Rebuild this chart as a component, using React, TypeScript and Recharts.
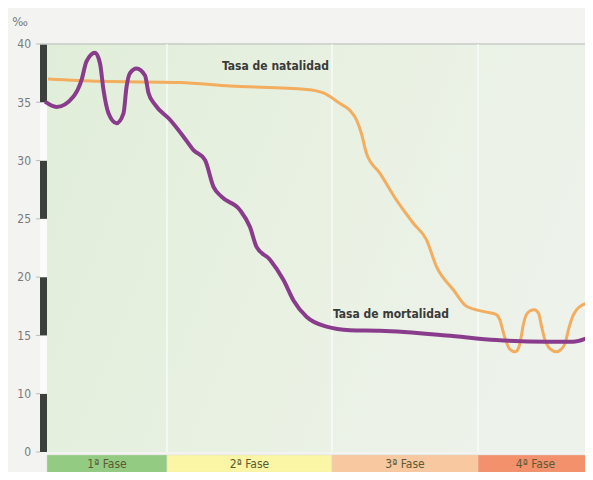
import React from "react";
import {
  LineChart,
  Line,
  XAxis,
  YAxis,
  ReferenceArea,
  ReferenceLine,
  ReferenceDot,
} from "recharts";

// births per 1000 (‰); x is an arbitrary time scale
const natalidad = [
  { t: 1.2, v: 37.0 },
  { t: 11.6, v: 36.8 },
  { t: 27.6, v: 36.7 },
  { t: 37.6, v: 36.4 },
  { t: 52.9, v: 36.1 },
  { t: 56.3, v: 35.8 },
  { t: 59.6, v: 34.9 },
  { t: 61.6, v: 34.3 },
  { t: 62.9, v: 33.5 },
  { t: 63.9, v: 32.3 },
  { t: 64.9, v: 30.6 },
  { t: 67.6, v: 28.9 },
  { t: 70.9, v: 26.6 },
  { t: 74.3, v: 24.6 },
  { t: 76.9, v: 23.2 },
  { t: 78.9, v: 20.9 },
  { t: 82.3, v: 18.9 },
  { t: 84.9, v: 17.5 },
  { t: 88.9, v: 17.0 },
  { t: 90.8, v: 16.8 },
  { t: 91.6, v: 16.3 },
  { t: 92.3, v: 15.2 },
  { t: 92.9, v: 14.4 },
  { t: 93.6, v: 13.8 },
  { t: 94.6, v: 13.6 },
  { t: 95.3, v: 13.9 },
  { t: 95.8, v: 14.8 },
  { t: 96.3, v: 16.0 },
  { t: 96.9, v: 16.8 },
  { t: 97.6, v: 17.1 },
  { t: 98.5, v: 17.2 },
  { t: 99.3, v: 16.9 },
  { t: 99.9, v: 15.8 },
  { t: 100.6, v: 14.6 },
  { t: 101.3, v: 14.0 },
  { t: 102.1, v: 13.7 },
  { t: 102.9, v: 13.6 },
  { t: 103.8, v: 13.8 },
  { t: 104.6, v: 14.3 },
  { t: 105.3, v: 15.5 },
  { t: 106.1, v: 16.6 },
  { t: 106.9, v: 17.2 },
  { t: 108.0, v: 17.6 },
  { t: 108.9, v: 17.75 },
  { t: 110.2, v: 17.9 },
];

const mortalidad = [
  { t: 0.6, v: 35.05 },
  { t: 2.9, v: 34.6 },
  { t: 6.3, v: 35.5 },
  { t: 7.9, v: 36.9 },
  { t: 8.9, v: 38.5 },
  { t: 10.6, v: 39.25 },
  { t: 11.6, v: 38.35 },
  { t: 12.3, v: 36.05 },
  { t: 13.3, v: 34.05 },
  { t: 14.9, v: 33.2 },
  { t: 16.3, v: 34.05 },
  { t: 16.9, v: 36.3 },
  { t: 17.6, v: 37.5 },
  { t: 18.9, v: 37.9 },
  { t: 20.6, v: 37.3 },
  { t: 21.3, v: 35.8 },
  { t: 22.6, v: 34.8 },
  { t: 25.6, v: 33.5 },
  { t: 28.3, v: 32.05 },
  { t: 30.3, v: 30.9 },
  { t: 32.6, v: 30.05 },
  { t: 34.3, v: 27.75 },
  { t: 35.9, v: 26.9 },
  { t: 39.6, v: 25.75 },
  { t: 41.6, v: 24.3 },
  { t: 42.9, v: 22.6 },
  { t: 45.6, v: 21.5 },
  { t: 48.3, v: 19.75 },
  { t: 50.3, v: 18.0 },
  { t: 52.9, v: 16.6 },
  { t: 56.9, v: 15.75 },
  { t: 61.6, v: 15.45 },
  { t: 67.6, v: 15.4 },
  { t: 80.9, v: 15.0 },
  { t: 90.9, v: 14.6 },
  { t: 100.9, v: 14.45 },
  { t: 106.2, v: 14.45 },
  { t: 110.2, v: 15.0 },
];

const fases = [
  { name: "1ª Fase", from: 1.0, to: 25, color: "#93cb82" },
  { name: "2ª Fase", from: 25, to: 58, color: "#fbf5a6" },
  { name: "3ª Fase", from: 58, to: 87.2, color: "#f8c8a0" },
  { name: "4ª Fase", from: 87.2, to: 110.2, color: "#f2916c" },
];

const tickValues = [0, 10, 15, 20, 25, 30, 35, 40];

// the axis is broken: 0-10 takes the same room as one 5-step
const toAxis = (v: number) => (v >= 10 ? v - 5 : v / 2);
const fromAxis = (a: number) => (a >= 5 ? a + 5 : a * 2);

const font = "'DejaVu Sans Condensed', 'DejaVu Sans', sans-serif";

export default function App() {
  const axisTicks = tickValues.map(toAxis);
  return (
    <div style={{ margin: -8, width: 593, height: 480, background: "#f3f3f1" }}>
      <LineChart
        width={593}
        height={480}
        margin={{ top: 44, right: 0, left: 0, bottom: 28 }}
      >
        <defs>
          <linearGradient id="plotBg" x1="0" y1="0" x2="1" y2="0.3">
            <stop offset="0%" stopColor="#e0eed9" />
            <stop offset="60%" stopColor="#e9f1e3" />
            <stop offset="100%" stopColor="#edf2ea" />
          </linearGradient>
        </defs>
        <XAxis
          type="number"
          dataKey="t"
          domain={[-0.4, 110.2]}
          allowDataOverflow
          hide
        />
        <YAxis
          type="number"
          width={40}
          domain={[0, 35]}
          ticks={axisTicks}
          tickFormatter={(a: number) => String(fromAxis(a))}
          interval={0}
          axisLine={false}
          tickLine={{ stroke: "#bbbbbb" }}
          tickSize={4}
          tickMargin={5}
          tick={{ fontSize: 12, fill: "#7a7a7a", fontFamily: font }}
          label={{
            value: "‰",
            position: "top",
            offset: 18,
            fill: "#7a7a7a",
            fontSize: 13,
            fontFamily: font,
          }}
        />
        <ReferenceArea
          x1={1.0}
          x2={110.2}
          y1={0}
          y2={35}
          fill="url(#plotBg)"
          fillOpacity={1}
          stroke="none"
        />
        <ReferenceLine y={35} stroke="#c9cbc6" strokeWidth={1.5} />
        {fases.slice(1).map((f) => (
          <ReferenceLine
            key={"l" + f.name}
            x={f.from}
            stroke="#ffffff"
            strokeOpacity={0.7}
            strokeWidth={1.5}
          />
        ))}
        {axisTicks.slice(0, -1).map((a, i) => (
          <ReferenceArea
            key={"seg" + i}
            x1={-0.4}
            x2={1.0}
            y1={a}
            y2={axisTicks[i + 1]}
            fill={i % 2 === 0 ? "#3b403d" : "#fbfbfb"}
            fillOpacity={1}
            stroke="none"
          />
        ))}
        {fases.map((f) => (
          <ReferenceArea
            key={f.name}
            x1={f.from}
            x2={f.to}
            y1={-1.75}
            y2={-0.25}
            ifOverflow="visible"
            fill={f.color}
            fillOpacity={1}
            stroke="#d8d8c8"
            strokeWidth={0.5}
            label={{
              value: f.name,
              position: "center",
              fill: "#5b5a33",
              fontSize: 12,
              fontFamily: font,
            }}
          />
        ))}
        <Line
          data={natalidad}
          type="monotone"
          dataKey={(d: { v: number }) => toAxis(d.v)}
          stroke="#f3ad5f"
          strokeWidth={3}
          dot={false}
          isAnimationActive={false}
        />
        <Line
          data={mortalidad}
          type="monotone"
          dataKey={(d: { v: number }) => toAxis(d.v)}
          stroke="#8a3c8c"
          strokeWidth={4}
          dot={false}
          isAnimationActive={false}
        />
        <ReferenceDot
          x={36}
          y={toAxis(38.1)}
          r={0}
          fill="none"
          stroke="none"
          label={{
            value: "Tasa de natalidad",
            position: "right",
            offset: 0,
            fill: "#3a3a3a",
            fontSize: 12,
            fontWeight: 700,
            fontFamily: font,
          }}
        />
        <ReferenceDot
          x={58.2}
          y={toAxis(16.9)}
          r={0}
          fill="none"
          stroke="none"
          label={{
            value: "Tasa de mortalidad",
            position: "right",
            offset: 0,
            fill: "#3a3a3a",
            fontSize: 12,
            fontWeight: 700,
            fontFamily: font,
          }}
        />
      </LineChart>
    </div>
  );
}
